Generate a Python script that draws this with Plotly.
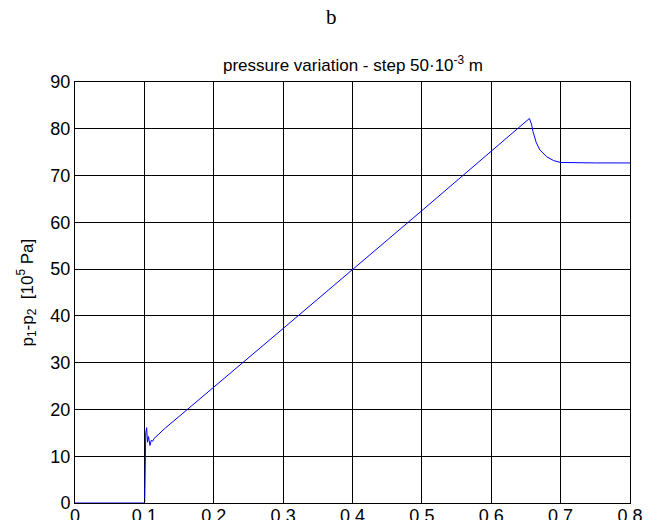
import plotly.graph_objects as go

# data
x_vals = [0.0, 0.05, 0.1, 0.1005, 0.1012, 0.1020, 0.1033, 0.1045, 0.106, 0.108, 0.110, 0.112, 0.114,
          0.13, 0.15, 0.2, 0.25, 0.3, 0.35, 0.4, 0.45, 0.5, 0.55, 0.6, 0.63, 0.65, 0.655,
          0.658, 0.66, 0.665, 0.67, 0.68, 0.69, 0.70, 0.72, 0.75, 0.78, 0.8]
y_vals = [0.0, 0.0, 0.0, 0.3, 12.0, 15.0, 16.1, 13.0, 14.2, 12.3, 13.4, 13.2, 13.8,
          16.0, 18.5, 24.7, 31.1, 37.3, 43.6, 50.0, 56.2, 62.5, 68.8, 75.1, 78.9, 81.4, 82.2,
          81.0, 79.5, 77.0, 75.5, 74.0, 73.2, 72.8, 72.7, 72.7, 72.7, 72.7]

x_ticks = [0, 0.1, 0.2, 0.3, 0.4, 0.5, 0.6, 0.7, 0.8]
x_labels = ["0", "0.1", "0.2", "0.3", "0.4", "0.5", "0.6", "0.7", "0.8"]
y_ticks = [0, 10, 20, 30, 40, 50, 60, 70, 80, 90]
y_labels = [str(v) for v in y_ticks]

fig = go.Figure()
fig.add_trace(go.Scatter(x=x_vals, y=y_vals, mode="lines",
                         line=dict(color="#0000FF", width=1), showlegend=False))

axis_common = dict(showline=True, linecolor="black", linewidth=1, mirror="ticks",
                   showgrid=True, gridcolor="black", gridwidth=1, zeroline=False,
                   ticks="inside", ticklen=5, tickcolor="black", automargin=False,
                   tickfont=dict(family="Liberation Sans, Arial", size=18, color="black"))

fig.update_xaxes(range=[0, 0.8], tickvals=x_ticks, ticktext=x_labels, ticklabelstandoff=-4,
                 **axis_common)
fig.update_yaxes(range=[0, 90], tickvals=y_ticks, ticktext=y_labels, ticklabelstandoff=0,
                 **axis_common)

fig.update_layout(
    width=662, height=520,
    margin=dict(l=75, r=32, t=82, b=17),
    paper_bgcolor="white", plot_bgcolor="white",
    annotations=[
        dict(text="b", xref="paper", yref="paper", x=(331 - 75) / 555, y=1 + (82 - 17) / 421,
             showarrow=False, xanchor="center", yanchor="middle",
             font=dict(family="Liberation Serif, Times New Roman", size=21, color="black")),
        dict(text="pressure variation - step 50·10<sup>-3</sup> m", xref="paper", yref="paper",
             x=0.5, y=1 + (82 - 64) / 421, showarrow=False, xanchor="center", yanchor="middle",
             font=dict(family="Liberation Sans, Arial", size=17, color="black")),
        dict(text="p<sub>1</sub>-p<sub>2</sub>  [10<sup>5</sup> Pa]", xref="paper", yref="paper",
             x=-(75 - 27) / 555, y=0.5, showarrow=False, textangle=-90,
             xanchor="center", yanchor="middle",
             font=dict(family="Liberation Sans, Arial", size=17, color="black")),
    ],
)

fig.write_html("out.html")
